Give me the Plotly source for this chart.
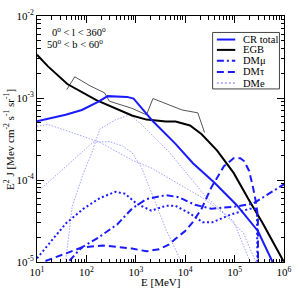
import plotly.graph_objects as go

# ---------------- data (E in MeV, E^2 J in MeV cm^-2 s^-1 sr^-1) ----------------
cr_total_E = [10, 38, 81, 172, 270, 531, 667, 902, 1644, 2223, 6370, 14350, 38730, 110900, 295800, 608000, 700000]
cr_total_F = [5.20e-4, 6.24e-4, 7.15e-4, 8.95e-4, 1.054e-3, 1.054e-3, 1.032e-3, 9.84e-4, 6.53e-4, 5.20e-4,
              2.76e-4, 1.60e-4, 9.30e-5, 4.93e-5, 2.39e-5, 1.0e-5, 8.0e-6]

egb_model_E = [10, 16.7, 41.1, 159, 836, 1644, 4055, 6370, 12530, 21530, 44400, 95500, 206000, 370700, 986000]
egb_model_F = [3.37e-3, 2.43e-3, 1.48e-3, 9.40e-4, 6.12e-4, 5.45e-4, 5.16e-4, 5.16e-4, 4.62e-4, 3.62e-4,
               2.28e-4, 1.22e-4, 5.40e-5, 2.97e-5, 1.01e-5]

egb_data_E = [40, 58.2, 118, 233, 292, 836, 1644, 2223, 8610, 18000, 24670]
egb_data_F = [1.265e-3, 1.816e-3, 1.41e-3, 1.156e-3, 9.14e-4, 7.48e-4, 6.24e-4, 9.84e-4, 7.15e-4, 6.59e-4, 3.79e-4]

compA_E = [10, 16.7, 41.1, 186, 836, 2061, 21230, 60800, 150000, 270000, 300000]
compA_F = [4.54e-4, 4.75e-4, 3.96e-4, 2.89e-4, 1.75e-4, 1.40e-4, 6.18e-5, 3.90e-5, 2.26e-5, 1.0e-5, 8.0e-6]

compQ_E = [32.4, 38.2, 51.5, 87.3, 127, 186, 393, 762, 1313, 4645, 26600, 95500, 206000, 230000]
compQ_F = [7.1e-6, 1.06e-5, 4.71e-5, 1.22e-4, 2.10e-4, 4.15e-4, 5.45e-4, 6.24e-4, 4.75e-4, 2.22e-4,
           6.18e-5, 3.13e-5, 1.0e-5, 8.0e-6]

compP_E = [10, 41.1, 137, 292, 531, 836, 1313, 2061, 4055, 8350, 10000]
compP_F = [7.08e-5, 1.53e-4, 2.89e-4, 2.94e-4, 2.61e-4, 2.16e-4, 1.40e-4, 7.08e-5, 2.52e-5, 1.0e-5, 7.1e-6]

dm_mu_E = [28.2, 79.8, 172, 424, 836, 1644, 4055, 7290, 15700, 33800, 95500, 236000, 1000000]
dm_mu_F = [7.6e-6, 1.50e-5, 1.97e-5, 2.89e-5, 4.47e-5, 5.86e-5, 6.53e-5, 6.18e-5, 4.98e-5, 4.47e-5,
           4.71e-5, 5.15e-5, 8.87e-5]

dm_tau_E = [10, 13.1, 79.8, 215, 836, 1644, 2960, 4645, 6370, 10000, 13700, 21530, 33800, 60800, 95500,
            131000, 157000, 197000, 236000, 270000, 296000, 302000]
dm_tau_F = [8.5e-6, 1.0e-5, 1.50e-5, 1.59e-5, 1.46e-5, 1.35e-5, 1.43e-5, 1.63e-5, 1.92e-5, 2.39e-5, 2.97e-5,
            4.47e-5, 8.13e-5, 1.47e-4, 1.84e-4, 1.84e-4, 1.69e-4, 1.29e-4, 8.13e-5, 5.40e-5, 3.59e-5, 1.0e-6]

dm_e_E = [10, 38.7, 87.3, 188, 387, 608, 1047, 2061, 4055, 6370, 12530, 22530, 35400, 83500, 206000,
          282500, 302000]
dm_e_F = [1.11e-5, 2.97e-5, 4.47e-5, 6.03e-5, 7.18e-5, 6.80e-5, 5.12e-5, 4.23e-5, 4.84e-5, 4.84e-5, 3.90e-5,
          3.05e-5, 3.05e-5, 3.79e-5, 4.47e-5, 4.47e-5, 1.0e-6]

x_tickvals = [1e1, 1e2, 1e3, 1e4, 1e5, 1e6]
x_ticktext = ["10<sup>1</sup>", "10<sup>2</sup>", "10<sup>3</sup>", "10<sup>4</sup>", "10<sup>5</sup>", "10<sup>6</sup>"]
y_tickvals = [1e-5, 1e-4, 1e-3, 1e-2]
y_ticktext = ["10<sup>-5</sup>", "10<sup>-4</sup>", "10<sup>-3</sup>", "10<sup>-2</sup>"]

legend_labels = ["CR total", "EGB", "DM\u03bc", "DM\u03c4", "DMe"]

# ---------------- styles ----------------
BLUE = "#1a1aff"
LIGHT = "#a0a0ff"
FONT = "Liberation Serif"

fig = go.Figure()

def add(E, F, color, width, dash="solid"):
    fig.add_trace(go.Scatter(x=E, y=F, mode="lines", line=dict(color=color, width=width, dash=dash),
                             showlegend=False, hoverinfo="skip"))

add(compA_E, compA_F, LIGHT, 1, "1.5px,1.5px")
add(compP_E, compP_F, LIGHT, 1, "1.5px,1.5px")
add(compQ_E, compQ_F, LIGHT, 1, "1.5px,1.5px")
add(egb_data_E, egb_data_F, "#555555", 1)
add(egb_model_E, egb_model_F, "black", 2)
add(cr_total_E, cr_total_F, BLUE, 2)
add(dm_mu_E, dm_mu_F, BLUE, 2, "7px,3px,2px,3px")
add(dm_tau_E, dm_tau_F, BLUE, 2, "7px,4px")
add(dm_e_E, dm_e_F, BLUE, 2, "2px,2.5px")

axis_common = dict(type="log", showgrid=False, zeroline=False, showline=True, linecolor="black", linewidth=1,
                   mirror="allticks", ticks="inside", ticklen=7, tickcolor="black", tickwidth=1,
                   tickfont=dict(family=FONT, size=11, color="black"),
                   minor=dict(ticks="inside", ticklen=3.5, tickcolor="black", tickwidth=1, dtick="D1", showgrid=False))

fig.update_xaxes(range=[1, 6], tickvals=x_tickvals, ticktext=x_ticktext, **axis_common)
fig.update_yaxes(range=[-5, -2], tickvals=y_tickvals, ticktext=y_ticktext, **axis_common)

# ---------------- legend (drawn manually) ----------------
L, R, T, B = 37, 292, 8, 262
def px(x):
    return (x - L) / (R - L)
def py(y):
    return (B - y) / (B - T)

shapes = [dict(type="rect", xref="paper", yref="paper", x0=px(218.3), x1=px(287.3), y0=py(83.3), y1=py(25),
               line=dict(color="#444444", width=1), fillcolor="white", layer="above")]
leg_styles = [(BLUE, 2, "solid"), ("black", 2, "solid"), (BLUE, 2, "7px,3px,2px,3px"),
              (BLUE, 2, "7px,4px"), (LIGHT, 1.5, "2px,2px")]
leg_y = [32.3, 43.0, 54.2, 65.7, 77.2]
annotations = []
for lab, (c, w, d), yy in zip(legend_labels, leg_styles, leg_y):
    shapes.append(dict(type="line", xref="paper", yref="paper", x0=px(222.7), x1=px(241.7), y0=py(yy), y1=py(yy),
                       line=dict(color=c, width=w, dash=d), layer="above"))
    annotations.append(dict(xref="paper", yref="paper", x=px(247.5), y=py(yy), text=lab, showarrow=False,
                            xanchor="left", yanchor="middle", font=dict(family=FONT, size=10.5, color="black")))

annotations.append(dict(xref="paper", yref="paper", x=px(50), y=py(24),
                        text="0<sup>o</sup> &lt; l &lt; 360<sup>o</sup>", showarrow=False,
                        xanchor="left", yanchor="middle", font=dict(family=FONT, size=10.5, color="black")))
annotations.append(dict(xref="paper", yref="paper", x=px(45.5), y=py(36),
                        text="50<sup>o</sup> &lt; b &lt; 60<sup>o</sup>", showarrow=False,
                        xanchor="left", yanchor="middle", font=dict(family=FONT, size=10.5, color="black")))
annotations.append(dict(xref="paper", yref="paper", x=px(165), y=py(283),
                        text="E [MeV]", showarrow=False, xanchor="center", yanchor="middle",
                        font=dict(family=FONT, size=11, color="black")))
annotations.append(dict(xref="paper", yref="paper", x=px(8), y=0.5, textangle=-90,
                        text="E<sup>2</sup> J [Mev cm<sup>-2</sup> s<sup>-1</sup> sr<sup>-1</sup>]",
                        showarrow=False, xanchor="center", yanchor="middle",
                        font=dict(family=FONT, size=11, color="black")))

fig.update_layout(width=300, height=290, margin=dict(l=37, r=8, t=8, b=28),
                  paper_bgcolor="white", plot_bgcolor="white", shapes=shapes, annotations=annotations,
                  showlegend=False)

fig.write_html("out.html", config={"displayModeBar": False, "staticPlot": True},
               post_script="document.body.style.margin='0';document.body.style.overflow='hidden';")
